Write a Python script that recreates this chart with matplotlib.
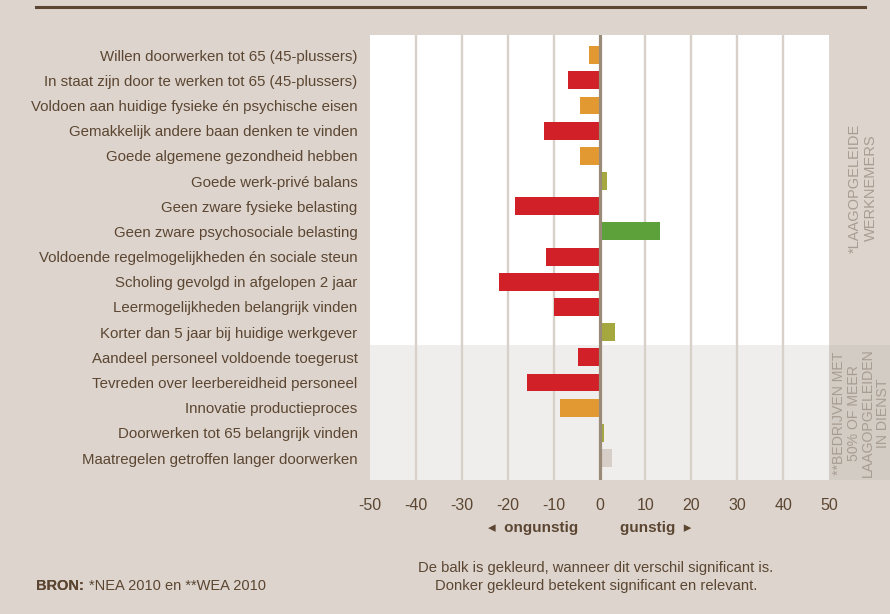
"""Verschil laagopgeleiden t.o.v. gemiddelde: werkvermogen en inzetbaarheid."""

import matplotlib.pyplot as plt
from matplotlib.patches import Rectangle

BG = "#DCD4CD"
BROWN = "#5C4632"
SIDE_TXT = "#A89D92"
GRID = "#D8D1CA"
ZERO = "#9A8A78"

CATEGORIES = [
    "Willen doorwerken tot 65 (45-plussers)",
    "In staat zijn door te werken tot 65 (45-plussers)",
    "Voldoen aan huidige fysieke én psychische eisen",
    "Gemakkelijk andere baan denken te vinden",
    "Goede algemene gezondheid hebben",
    "Goede werk-privé balans",
    "Geen zware fysieke belasting",
    "Geen zware psychosociale belasting",
    "Voldoende regelmogelijkheden én sociale steun",
    "Scholing gevolgd in afgelopen 2 jaar",
    "Leermogelijkheden belangrijk vinden",
    "Korter dan 5 jaar bij huidige werkgever",
    "Aandeel personeel voldoende toegerust",
    "Tevreden over leerbereidheid personeel",
    "Innovatie productieproces",
    "Doorwerken tot 65 belangrijk vinden",
    "Maatregelen getroffen langer doorwerken",
]
VALUES = [-2.3, -6.9, -4.3, -12.1, -4.3, 1.6, -18.4, 13.1, -11.7, -22.0,
          -9.9, 3.3, -4.7, -15.8, -8.6, 0.9, 2.7]
# significance: rel = significant and relevant, sig = significant, ns = not
SIGNIFICANCE = ["sig", "rel", "sig", "rel", "sig", "sig", "rel", "rel", "rel",
                "rel", "rel", "sig", "rel", "rel", "sig", "sig", "ns"]
N_EMPLOYEE_ROWS = 12  # rows from NEA; the rest come from WEA
TICKS = [-50, -40, -30, -20, -10, 0, 10, 20, 30, 40, 50]


def bar_color(value, sig):
    if sig == "ns":
        return "#D6CEC7"
    if value < 0:
        return "#D12027" if sig == "rel" else "#E39932"
    return "#5CA13A" if sig == "rel" else "#A5A83E"


plt.rcParams["font.family"] = ["Liberation Sans", "DejaVu Sans"]

fig = plt.figure(figsize=(8.9, 6.14), dpi=100, facecolor=BG)
ax = fig.add_axes([370 / 890, 1 - 480 / 614, 459 / 890, 445 / 614])
ax.set_facecolor("white")

rows = list(range(len(CATEGORIES)))
split = N_EMPLOYEE_ROWS - 0.5
ax.axhspan(split, len(CATEGORIES) + 1, color="#F0EEEC", zorder=0, lw=0)

for t in TICKS[1:-1]:
    if t != 0:
        ax.axvline(t, color=GRID, lw=1.7, zorder=1)
ax.axvline(0, color=ZERO, lw=2.3, zorder=3)

colors = [bar_color(v, s) for v, s in zip(VALUES, SIGNIFICANCE)]
ax.barh(rows, VALUES, height=0.71, color=colors, zorder=2)

ax.set_xlim(-50, 50)
ax.set_ylim(len(CATEGORIES) - 0.13, -0.8)
ax.set_xticks(TICKS)
ax.set_xticklabels([str(t) for t in TICKS], fontsize=11.5, color=BROWN)
ax.set_yticks(rows)
ax.set_yticklabels(CATEGORIES, fontsize=10.8, color=BROWN)
ax.tick_params(length=0, axis="x", pad=13)
ax.tick_params(length=0, axis="y", pad=9)
for s in ax.spines.values():
    s.set_visible(False)

# side strip with group labels
fig.patches.append(Rectangle((829 / 890, 1 - 480 / 614), 61 / 890, 135 / 614,
                             transform=fig.transFigure, color="#D3CCC5", lw=0, zorder=0))
fig.text(863 / 890, 1 - 188 / 614, "*LAAGOPGELEIDE\nWERKNEMERS", rotation=90,
         ha="center", va="center", multialignment="center",
         fontsize=10.5, color=SIDE_TXT, linespacing=1.15)
fig.text(861 / 890, 1 - 413 / 614, "**BEDRIJVEN MET\n50% OF MEER\nLAAGOPGELEIDEN\nIN DIENST",
         rotation=90, ha="center", va="center", multialignment="center",
         fontsize=10.2, color=SIDE_TXT, linespacing=1.05)

# direction hints under the axis
fig.text(578 / 890, 1 - 528 / 614, "◂  ongunstig", ha="right", va="center",
         fontsize=11, fontweight="bold", color=BROWN)
fig.text(620 / 890, 1 - 528 / 614, "gunstig  ▸", ha="left", va="center",
         fontsize=11, fontweight="bold", color=BROWN)

# top rule
fig.add_artist(plt.Line2D([36 / 890, 865 / 890], [1 - 7 / 614] * 2,
                          transform=fig.transFigure, color=BROWN, lw=2.2))

bron = fig.text(36 / 890, 1 - 586 / 614, "BRON:", fontweight="bold", fontsize=10.5,
                color=BROWN, va="center", ha="left")
fig.add_artist(bron)
ax.annotate("*NEA 2010 en **WEA 2010", xy=(1, 0.5), xycoords=bron,
            xytext=(4, 0), textcoords="offset points", fontsize=10.5,
            color=BROWN, va="center", ha="left", annotation_clip=False)
fig.text(596 / 890, 1 - 577 / 614,
         "De balk is gekleurd, wanneer dit verschil significant is.\n"
         "Donker gekleurd betekent significant en relevant.",
         ha="center", va="center", fontsize=10.6, color=BROWN, linespacing=1.3)

fig.savefig("out.png", dpi=100, facecolor=BG)
